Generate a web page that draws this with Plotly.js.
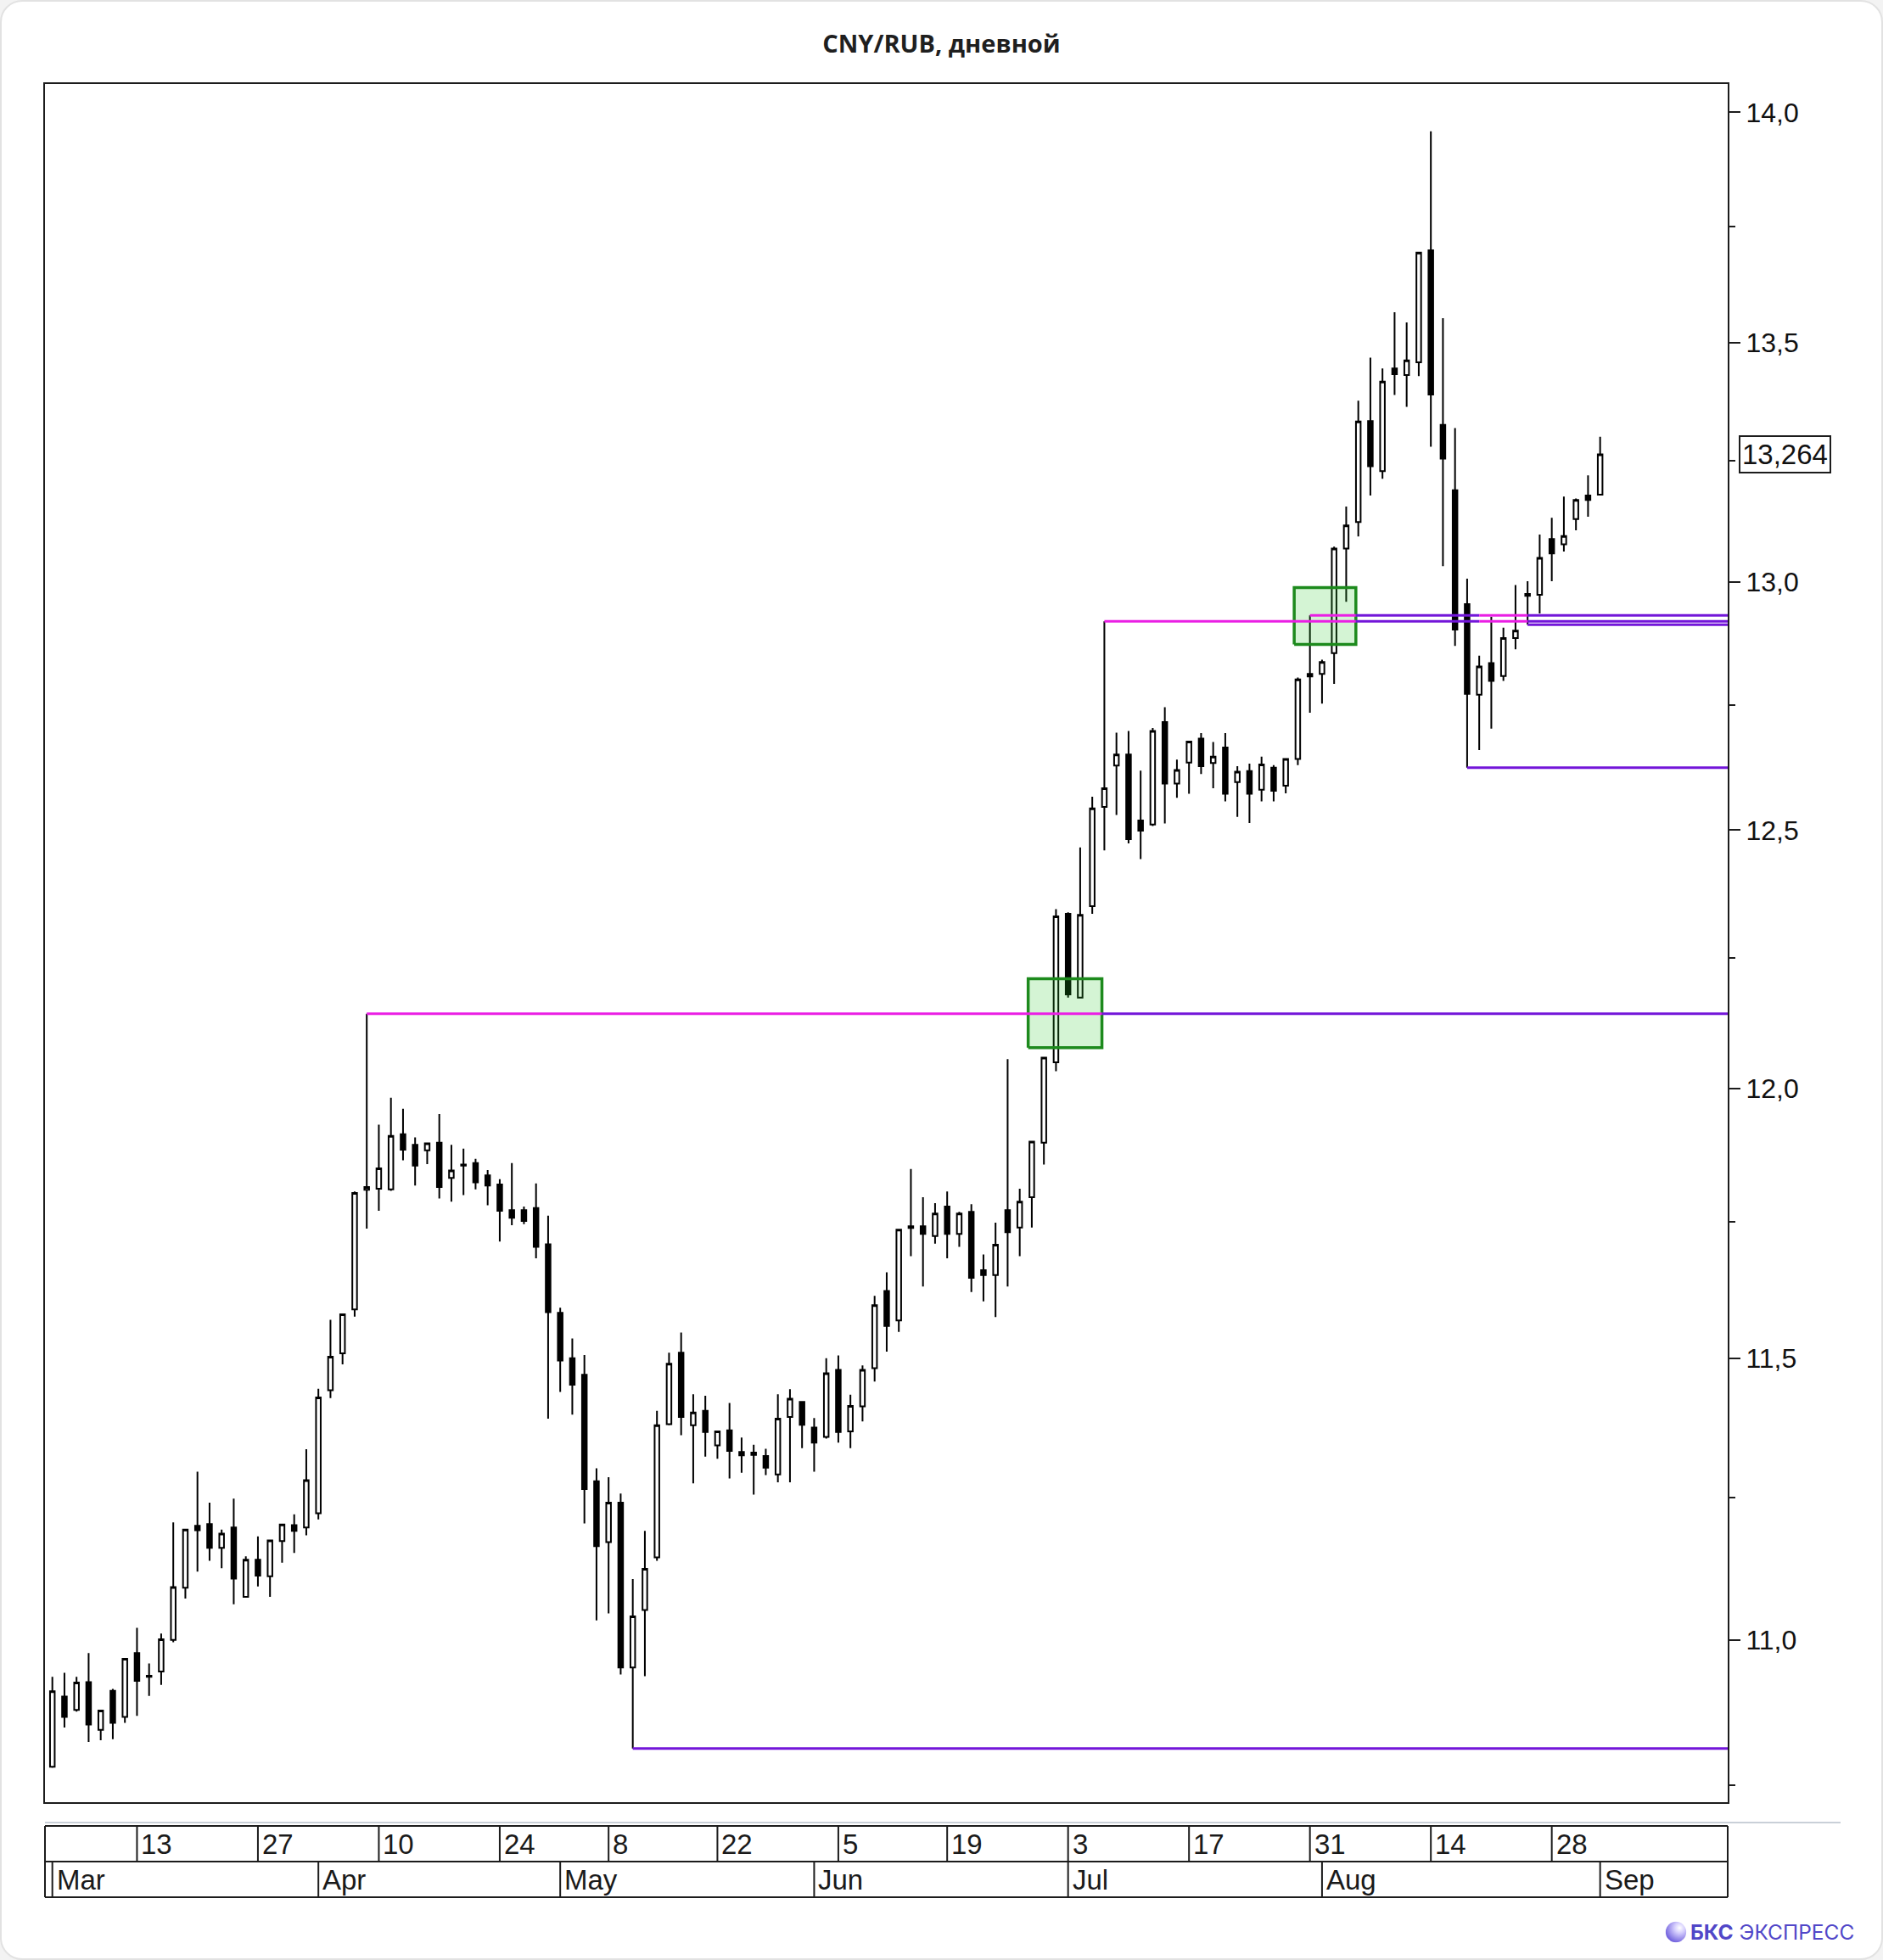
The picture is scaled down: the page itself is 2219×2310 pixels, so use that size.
<!DOCTYPE html>
<html><head><meta charset="utf-8">
<script src="https://cdn.plot.ly/plotly-3.0.1.min.js"></script>
<style>
html,body{margin:0;padding:0;background:#f3f3f3;width:2219px;height:2310px;overflow:hidden;}
#card{position:absolute;left:0;top:0;width:2215px;height:2306px;background:#fff;border:2px solid #e2e2e2;border-radius:26px;}
#chart{position:absolute;left:0;top:0;width:2219px;height:2310px;}
</style></head><body>
<div id="card"></div><div id="chart"></div>
<script>
// ---- data ----
const dates = [
'2023-03-01','2023-03-02','2023-03-03','2023-03-06','2023-03-07','2023-03-09','2023-03-10','2023-03-13','2023-03-14','2023-03-15',
'2023-03-16','2023-03-17','2023-03-20','2023-03-21','2023-03-22','2023-03-23','2023-03-24','2023-03-27','2023-03-28','2023-03-29',
'2023-03-30','2023-03-31','2023-04-03','2023-04-04','2023-04-05','2023-04-06','2023-04-07','2023-04-10','2023-04-11','2023-04-12',
'2023-04-13','2023-04-14','2023-04-17','2023-04-18','2023-04-19','2023-04-20','2023-04-21','2023-04-24','2023-04-25','2023-04-26',
'2023-04-27','2023-04-28','2023-05-02','2023-05-03','2023-05-04','2023-05-05','2023-05-08','2023-05-10','2023-05-11','2023-05-12',
'2023-05-15','2023-05-16','2023-05-17','2023-05-18','2023-05-19','2023-05-22','2023-05-23','2023-05-24','2023-05-25','2023-05-26',
'2023-05-29','2023-05-30','2023-05-31','2023-06-01','2023-06-02','2023-06-05','2023-06-06','2023-06-07','2023-06-08','2023-06-09',
'2023-06-13','2023-06-14','2023-06-15','2023-06-16','2023-06-19','2023-06-20','2023-06-21','2023-06-22','2023-06-23','2023-06-26',
'2023-06-27','2023-06-28','2023-06-29','2023-06-30','2023-07-03','2023-07-04','2023-07-05','2023-07-06','2023-07-07','2023-07-10',
'2023-07-11','2023-07-12','2023-07-13','2023-07-14','2023-07-17','2023-07-18','2023-07-19','2023-07-20','2023-07-21','2023-07-24',
'2023-07-25','2023-07-26','2023-07-27','2023-07-28','2023-07-31','2023-08-01','2023-08-02','2023-08-03','2023-08-04','2023-08-07',
'2023-08-08','2023-08-09','2023-08-10','2023-08-11','2023-08-14','2023-08-15','2023-08-16','2023-08-17','2023-08-18','2023-08-21',
'2023-08-22','2023-08-23','2023-08-24','2023-08-25','2023-08-28','2023-08-29','2023-08-30','2023-08-31','2023-09-01'];

const open = [
10.782,10.902,10.879,10.927,10.845,10.912,10.867,10.977,10.938,10.945,
11.000,11.091,11.200,11.203,11.161,11.197,11.075,11.140,11.111,11.173,
11.201,11.197,11.222,11.442,11.509,11.589,11.810,11.812,11.811,11.914,
11.894,11.884,11.898,11.832,11.855,11.860,11.837,11.820,11.772,11.772,
11.776,11.709,11.583,11.500,11.470,11.279,11.171,11.241,10.952,11.052,
11.144,11.381,11.510,11.379,11.405,11.343,11.370,11.331,11.326,11.324,
11.291,11.394,11.421,11.375,11.358,11.479,11.368,11.413,11.482,11.623,
11.569,11.739,11.742,11.724,11.779,11.728,11.769,11.661,11.652,11.772,
11.740,11.796,11.898,12.050,12.336,12.174,12.351,12.546,12.628,12.650,
12.519,12.511,12.715,12.592,12.634,12.682,12.633,12.664,12.595,12.617,
12.580,12.624,12.588,12.641,12.812,12.812,12.854,13.068,13.123,13.334,
13.229,13.445,13.431,13.458,13.698,13.326,13.189,12.954,12.770,12.834,
12.808,12.885,12.971,12.973,13.088,13.077,13.129,13.178,13.180];

const high = [
10.936,10.943,10.936,10.977,10.879,10.915,10.968,11.021,10.959,11.011,
11.206,11.193,11.296,11.241,11.193,11.248,11.146,11.181,11.175,11.203,
11.220,11.336,11.445,11.570,11.580,11.807,12.143,11.932,11.983,11.962,
11.908,11.897,11.952,11.894,11.887,11.868,11.847,11.830,11.860,11.779,
11.822,11.762,11.592,11.536,11.506,11.302,11.286,11.257,11.106,11.191,
11.405,11.510,11.547,11.435,11.432,11.368,11.419,11.357,11.344,11.337,
11.435,11.444,11.421,11.392,11.500,11.505,11.434,11.487,11.614,11.657,
11.736,11.849,11.796,11.785,11.807,11.769,11.783,11.690,11.749,12.056,
11.812,11.900,12.059,12.345,12.339,12.466,12.566,12.919,12.694,12.697,
12.618,12.703,12.745,12.640,12.676,12.693,12.675,12.693,12.627,12.632,
12.646,12.629,12.641,12.805,12.931,12.841,13.072,13.155,13.377,13.468,
13.445,13.565,13.543,13.693,13.958,13.552,13.319,13.006,12.849,12.928,
12.906,12.993,13.001,13.097,13.132,13.176,13.172,13.220,13.301];

const low = [
10.780,10.849,10.876,10.824,10.827,10.829,10.857,10.869,10.903,10.922,
10.996,11.072,11.119,11.138,11.125,11.062,11.075,11.093,11.075,11.135,
11.152,11.183,11.211,11.428,11.489,11.576,11.738,11.771,11.808,11.865,
11.818,11.858,11.794,11.788,11.800,11.811,11.781,11.714,11.744,11.746,
11.683,11.391,11.439,11.398,11.204,11.034,11.046,10.940,10.813,10.937,
11.138,11.379,11.361,11.275,11.323,11.319,11.284,11.294,11.255,11.290,
11.277,11.277,11.338,11.296,11.355,11.348,11.338,11.386,11.458,11.512,
11.548,11.687,11.631,11.710,11.683,11.704,11.621,11.604,11.575,11.631,
11.687,11.740,11.857,12.033,12.174,12.173,12.336,12.460,12.530,12.474,
12.443,12.508,12.513,12.564,12.572,12.611,12.583,12.557,12.526,12.514,
12.557,12.557,12.573,12.629,12.734,12.752,12.792,12.959,13.093,13.178,
13.213,13.389,13.364,13.429,13.280,13.032,12.869,12.624,12.659,12.702,
12.798,12.862,12.912,12.935,13.001,13.062,13.106,13.134,13.180];

const close = [
10.911,10.867,10.926,10.854,10.878,10.857,10.967,10.929,10.936,11.001,
11.092,11.193,11.192,11.161,11.186,11.107,11.140,11.112,11.174,11.202,
11.191,11.281,11.429,11.503,11.580,11.804,11.815,11.850,11.911,11.885,
11.855,11.897,11.815,11.846,11.857,11.824,11.818,11.771,11.758,11.752,
11.704,11.584,11.496,11.452,11.265,11.164,11.241,10.952,11.041,11.124,
11.379,11.490,11.394,11.402,11.367,11.368,11.333,11.325,11.330,11.303,
11.391,11.427,11.380,11.348,11.473,11.367,11.414,11.479,11.597,11.559,
11.736,11.742,11.728,11.766,11.728,11.766,11.647,11.652,11.708,11.731,
11.788,11.900,12.059,12.331,12.180,12.334,12.543,12.583,12.650,12.482,
12.499,12.697,12.592,12.619,12.676,12.627,12.646,12.572,12.616,12.572,
12.630,12.578,12.641,12.801,12.807,12.836,13.068,13.116,13.333,13.239,
13.417,13.433,13.462,13.693,13.390,13.255,12.902,12.772,12.827,12.798,
12.885,12.900,12.975,13.049,13.058,13.094,13.169,13.169,13.264];

const dayTickDates = ['2023-03-13','2023-03-27','2023-04-10','2023-04-24','2023-05-08','2023-05-22','2023-06-05',
                      '2023-06-19','2023-07-03','2023-07-17','2023-07-31','2023-08-14','2023-08-28'];
const monthNames = ['Mar','Apr','May','Jun','Jul','Aug','Sep'];
const yTickVals = [11.0, 11.5, 12.0, 12.5, 13.0, 13.5, 14.0];
const yTickText = ['11,0','11,5','12,0','12,5','13,0','13,5','14,0'];
const yMinorVals = [10.75, 11.25, 11.75, 12.25, 12.75, 13.25, 13.75];
const lastPrice = 13.264;
const lastPriceText = '13,264';

// breakout boxes
const boxStartDate = ['2023-06-28','2023-07-28'];
const boxEndDate   = ['2023-07-05','2023-08-03'];
const boxLow  = [12.078, 12.872];
const boxHigh = [12.210, 12.988];

// level line segments (R = unbroken resistance, S = support / broken)
const segValue = [12.143, 12.143, 10.813, 12.919, 12.919, 12.919, 12.919, 12.931, 12.931, 12.931, 12.931, 12.912, 12.624];
const segFrom  = ['2023-04-07','BOX0','2023-05-11','2023-07-06','BOX1','2023-08-18','2023-08-24','2023-07-31','BOX1','2023-08-18','2023-08-24','2023-08-24','2023-08-17'];
const segTo    = ['BOX0','END','END','BOX1','2023-08-18','2023-08-24','END','BOX1','2023-08-18','2023-08-24','END','END','END'];
const segKind  = ['R','S','S','R','S','R','S','R','S','R','S','S','S'];

// ---- geometry / style ----
const W = 2219, H = 2310;
const M = {l: 53, r: 183, t: 99, b: 186};
const plotW = W - M.l - M.r, plotH = H - M.t - M.b;
const xRange = [-0.61, 138.55];
const yRange = [Math.log10(10.7217), Math.log10(14.0626)];
const py = Y => (H - M.b - Y) / plotH;          // pixel row -> paper y
const px = X => (X - M.l) / plotW;              // pixel col -> paper x
const xi = dates.map((d, i) => i);
const ix = d => dates.indexOf(d);
const boxLeftPad = 0.3, boxRightPad = 0.8;
const boxL = boxStartDate.map(d => ix(d) - boxLeftPad);
const boxR = boxEndDate.map(d => ix(d) + boxRightPad);
const segX = s => s === 'END' ? xRange[1] : (s.startsWith('BOX') ? boxR[+s.slice(3)] : ix(s));
const MAG = '#ea1fe4', PUR = '#7316d9';
const ink = '#1c1c1c';
const axFont = 'Liberation Sans, Arial, sans-serif';

const traces = [];
traces.push({
  type: 'candlestick', x: xi, open: open, high: high, low: low, close: close,
  text: dates, hoverinfo: 'text+y',
  increasing: {line: {color: '#000', width: 2}, fillcolor: '#ffffff'},
  decreasing: {line: {color: '#000', width: 2}, fillcolor: '#000000'},
  whiskerwidth: 0, showlegend: false
});
for (let b = 0; b < boxL.length; b++) {
  traces.push({
    type: 'scatter', mode: 'lines', showlegend: false, hoverinfo: 'skip',
    x: [boxL[b], boxR[b], boxR[b], boxL[b], boxL[b]],
    y: [boxLow[b], boxLow[b], boxHigh[b], boxHigh[b], boxLow[b]],
    fill: 'toself', fillcolor: 'rgba(40,200,40,0.2)',
    line: {color: '#1d8a1d', width: 3.5}
  });
}
for (let s = 0; s < segValue.length; s++) {
  traces.push({
    type: 'scatter', mode: 'lines', showlegend: false, hoverinfo: 'skip',
    x: [segX(segFrom[s]), segX(segTo[s])], y: [segValue[s], segValue[s]],
    line: {color: segKind[s] === 'R' ? MAG : PUR, width: 3}
  });
}

// ---- bottom date band ----
const yGray = py(2148), yDayTop = py(2152), yDayBot = py(2194), yMonBot = py(2236);
const shapes = [];
const hl = (y, x1, color, w) => shapes.push({type: 'line', xref: 'paper', yref: 'paper', x0: 0, x1: x1, y0: y, y1: y, line: {color: color, width: w}});
hl(yGray, px(2169), '#c9d0d8', 2);
hl(yDayTop, 1, ink, 2); hl(yDayBot, 1, ink, 2); hl(yMonBot, 1, ink, 2);
[0, 1].forEach(x => shapes.push({type: 'line', xref: 'paper', yref: 'paper', x0: x, x1: x, y0: yDayTop, y1: yMonBot, line: {color: ink, width: 2}}));
const annotations = [];
const lblFont = {family: axFont, size: 33, color: '#1a1a1a'};
dayTickDates.forEach(d => {
  const i = ix(d);
  shapes.push({type: 'line', xref: 'x', yref: 'paper', x0: i, x1: i, y0: yDayTop, y1: yDayBot, line: {color: ink, width: 2}});
  annotations.push({xref: 'x', yref: 'paper', x: i, y: (yDayTop + yDayBot) / 2, xanchor: 'left', yanchor: 'middle', xshift: 3,
    text: String(parseInt(d.slice(8), 10)), showarrow: false, font: lblFont});
});
let m = 0;
dates.forEach((d, i) => {
  if (i === 0 || d.slice(5, 7) !== dates[i - 1].slice(5, 7)) {
    shapes.push({type: 'line', xref: 'x', yref: 'paper', x0: i, x1: i, y0: yDayBot, y1: yMonBot, line: {color: ink, width: 2}});
    annotations.push({xref: 'x', yref: 'paper', x: i, y: (yDayBot + yMonBot) / 2, xanchor: 'left', yanchor: 'middle', xshift: 3,
      text: monthNames[m++], showarrow: false, font: lblFont});
  }
});

// last price box
annotations.push({xref: 'paper', yref: 'y', x: px(2049), y: Math.log10(lastPrice), xanchor: 'left', yanchor: 'middle',
  text: lastPriceText, showarrow: false, font: {family: axFont, size: 33, color: '#111'},
  bgcolor: '#fff', bordercolor: ink, borderwidth: 2, borderpad: 2});
// logo
annotations.push({xref: 'paper', yref: 'paper', x: px(1990), y: py(2277), xanchor: 'left', yanchor: 'middle',
  text: '<b>БКС</b> ЭКСПРЕСС', showarrow: false, font: {family: 'Inter, Noto Sans, sans-serif', size: 24.5, color: '#5147c8'}});
const sphere = "<svg xmlns='http://www.w3.org/2000/svg' width='40' height='40'><defs><radialGradient id='g' cx='0.68' cy='0.3' r='0.85'><stop offset='0' stop-color='#ffffff'/><stop offset='0.3' stop-color='#d4cdfd'/><stop offset='1' stop-color='#5a48d6'/></radialGradient></defs><circle cx='20' cy='20' r='19.5' fill='url(#g)'/></svg>";

const layout = {
  width: W, height: H, margin: M,
  paper_bgcolor: 'rgba(0,0,0,0)', plot_bgcolor: '#ffffff',
  title: {text: '<b>CNY/RUB, дневной</b>', xref: 'container', yref: 'container', x: 0.5, xanchor: 'center',
          y: 1 - 52 / H, yanchor: 'middle', font: {family: 'Open Sans, Noto Sans, sans-serif', size: 29, color: '#1f1f1f'}},
  showlegend: false, hovermode: false, boxgap: 0.45,
  xaxis: {type: 'linear', range: xRange, showgrid: false, zeroline: false, showticklabels: false, ticks: '',
          showline: true, mirror: true, linecolor: ink, linewidth: 2, rangeslider: {visible: false}, fixedrange: true},
  yaxis: {type: 'log', side: 'right', range: yRange, showgrid: false, zeroline: false,
          tickmode: 'array', tickvals: yTickVals, ticktext: yTickText,
          ticks: 'outside', ticklen: 13, tickwidth: 2, tickcolor: ink,
          tickfont: {family: axFont, size: 32, color: '#111'},
          minor: {tickmode: 'array', tickvals: yMinorVals, ticks: 'outside', ticklen: 7, tickwidth: 2, tickcolor: ink, showgrid: false},
          showline: true, mirror: true, linecolor: ink, linewidth: 2, fixedrange: true},
  shapes: shapes, annotations: annotations,
  images: [{source: 'data:image/svg+xml;charset=utf-8,' + encodeURIComponent(sphere), xref: 'paper', yref: 'paper',
            x: px(1975), y: py(2277), sizex: 25 / plotW, sizey: 25 / plotH, xanchor: 'center', yanchor: 'middle', layer: 'above'}]
};
Plotly.newPlot('chart', traces, layout, {displayModeBar: false, staticPlot: true});
</script>
</body></html>
